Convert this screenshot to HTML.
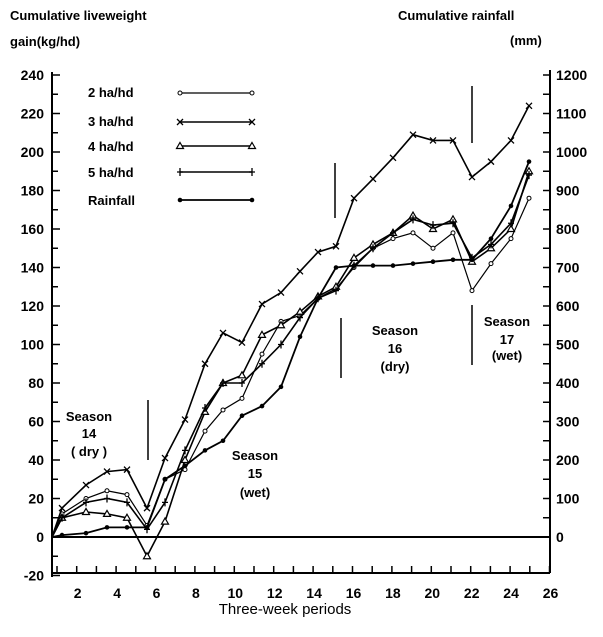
<!DOCTYPE html>
<html><head><meta charset="utf-8"><style>
html,body{margin:0;padding:0;background:#fff;}
svg text{font-family:"Liberation Sans",sans-serif;fill:#000;font-weight:bold;}
</style></head><body>
<svg id="s" width="603" height="632" viewBox="0 0 603 632" xmlns="http://www.w3.org/2000/svg">
<text x="10" y="20" font-size="13">Cumulative liveweight</text>
<text x="10" y="46" font-size="13">gain(kg/hd)</text>
<text x="398" y="20" font-size="13">Cumulative rainfall</text>
<text x="510" y="45" font-size="13">(mm)</text>
<g stroke="#000" stroke-width="2" fill="none">
<line x1="52" y1="72" x2="52" y2="577"/>
<line x1="52" y1="573" x2="550" y2="573"/>
<line x1="550" y1="70" x2="550" y2="573"/>
<line x1="52" y1="537" x2="550" y2="537"/>
<line x1="148" y1="400" x2="148" y2="460" stroke-width="1.5"/>
<line x1="335" y1="163" x2="335" y2="218" stroke-width="1.5"/>
<line x1="341" y1="318" x2="341" y2="378" stroke-width="1.5"/>
<line x1="472" y1="86" x2="472" y2="143" stroke-width="1.5"/>
<line x1="472" y1="305" x2="472" y2="365" stroke-width="1.5"/>
</g>
<g id="ticks" stroke="#000" stroke-width="1.5"></g>
<g id="labels" font-size="14"></g>
<g id="series" stroke="#000" fill="none"></g>
<g font-size="13">
<text x="88" y="97">2 ha/hd</text>
<text x="88" y="126">3 ha/hd</text>
<text x="88" y="151">4 ha/hd</text>
<text x="88" y="177">5 ha/hd</text>
<text x="88" y="205">Rainfall</text>
</g>
<g font-size="13" text-anchor="middle">
<text x="89" y="421">Season</text><text x="89" y="438">14</text><text x="89" y="456">( dry )</text>
<text x="255" y="460">Season</text><text x="255" y="478">15</text><text x="255" y="497">(wet)</text>
<text x="395" y="335">Season</text><text x="395" y="353">16</text><text x="395" y="371">(dry)</text>
<text x="507" y="326">Season</text><text x="507" y="344">17</text><text x="507" y="360">(wet)</text>
</g>
<text x="285" y="614" font-size="15" font-weight="normal" text-anchor="middle" style="font-weight:normal">Three-week periods</text>
</svg>
<script>
var NS="http://www.w3.org/2000/svg";
function el(p,t,a,txt){var e=document.createElementNS(NS,t);for(var k in a)e.setAttribute(k,a[k]);if(txt!==undefined)e.textContent=txt;document.getElementById(p).appendChild(e);return e;}
function Y(v){return 537-1.925*v;}
for(var v=-20;v<=240;v+=10){var y=Y(v);el("ticks","line",{x1:52,y1:y,x2:(v%20==0?60:58),y2:y});
 if(v%20==0)el("labels","text",{x:44,y:y+5,"text-anchor":"end"},String(v));}
for(var m=0;m<=1200;m+=50){var y=Y(m/5);el("ticks","line",{x1:543,y1:y,x2:550,y2:y});
 if(m%100==0)el("labels","text",{x:556,y:y+5},String(m));}
for(var p=1;p<=26;p++){var x=57+19.7*(p-1);el("ticks","line",{x1:x,y1:573,x2:x,y2:566});
 if(p%2==0)el("labels","text",{x:x+1,y:598,"text-anchor":"middle"},String(p));}
var X=[52,62,86,107,127,147,165,185,205,223,242,262,281,300,318,336,354,373,393,413,433,453,472,491,511,529];
var S={
two:[0,12,20,24,22,6,30,35,55,66,72,95,112,115,124,129,140,150,155,158,150,158,128,142,155,176],
three:[0,15,27,34,35,15,41,61,90,106,101,121,127,138,148,151,176,186,197,209,206,206,187,195,206,224],
four:[0,10,13,12,10,-10,8,40,65,80,84,105,110,117,125,130,145,152,158,167,160,165,143,150,160,190],
five:[0,10,18,20,18,4,18,45,67,80,80,90,100,114,124,128,141,150,158,165,162,163,145,152,163,188],
rain:[0,1,2,5,5,5,30,37,45,50,63,68,78,104,124,140,141,141,141,142,143,144,144,155,172,195]};
function mark(t,x,y){
 if(t=="two")el("series","circle",{cx:x,cy:y,r:2,fill:"#fff","stroke-width":1});
 else if(t=="three"){el("series","path",{d:"M"+(x-3)+" "+(y-3)+"L"+(x+3)+" "+(y+3)+"M"+(x-3)+" "+(y+3)+"L"+(x+3)+" "+(y-3),"stroke-width":1.3});}
 else if(t=="four")el("series","path",{d:"M"+x+" "+(y-3.5)+"L"+(x+3.5)+" "+(y+2.5)+"L"+(x-3.5)+" "+(y+2.5)+"Z",fill:"#fff","stroke-width":1.2});
 else if(t=="five")el("series","path",{d:"M"+x+" "+(y-4)+"V"+(y+4)+"M"+(x-3)+" "+y+"H"+(x+3),"stroke-width":1.3});
 else el("series","circle",{cx:x,cy:y,r:2.3,fill:"#000",stroke:"none"});
}
var W={two:1.2,three:1.6,four:1.6,five:1.6,rain:1.8};
for(var k in S){var d="";S[k].forEach(function(v,i){d+=(i?"L":"M")+X[i]+" "+Y(v).toFixed(1);});
 el("series","path",{d:d,"stroke-width":W[k]});
 S[k].forEach(function(v,i){if(i)mark(k,X[i],Y(v));});}
var ly=[93,122,146,172,200],ks=["two","three","four","five","rain"];
ks.forEach(function(k,i){el("series","path",{d:"M180 "+ly[i]+"H252","stroke-width":W[k]});mark(k,180,ly[i]);mark(k,252,ly[i]);});
</script>
</body></html>
